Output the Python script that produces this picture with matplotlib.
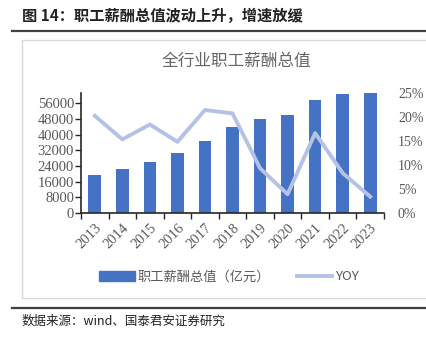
import numpy as np
import matplotlib

matplotlib.use("Agg")
import matplotlib.pyplot as plt
from matplotlib.lines import Line2D
from matplotlib.patches import Rectangle, Patch

plt.rcParams["font.family"] = ["Noto Sans CJK SC", "DejaVu Sans"]

years = ["2013", "2014", "2015", "2016", "2017", "2018", "2019", "2020", "2021", "2022", "2023"]
pay_total = [19300, 22400, 26300, 30600, 36600, 44000, 47800, 49900, 57700, 61000, 61300]
yoy = [20.2, 15.3, 18.4, 14.8, 21.4, 20.7, 9.3, 3.9, 16.6, 8.3, 3.4]
left_ticks = [0, 8000, 16000, 24000, 32000, 40000, 48000, 56000]
right_ticks = [0, 5, 10, 15, 20, 25]

BAR_C = "#4472C4"
LINE_C = "#B4C2E6"
TXT_C = "#595959"
W, H = 426, 337

fig = plt.figure(figsize=(W / 100, H / 100), dpi=100)

# outer decorations (title, rules, chart frame, source)
fig.text(22 / W, 1 - 16 / H, "图 14：职工薪酬总值波动上升，增速放缓",
         fontsize=11, fontweight="semibold", color="#222222", va="center", ha="left")
fig.add_artist(Line2D([12 / W, 1], [1 - 31 / H] * 2, color="#404040", lw=1.6))
fig.add_artist(Rectangle((21.5 / W, 1 - 298 / H), (W - 21) / W, (298 - 39.5) / H,
                         fill=False, ec="#d9d9d9", lw=1.0))
fig.add_artist(Line2D([12 / W, 1], [1 - 308 / H] * 2, color="#404040", lw=1.6))
fig.text(22 / W, 1 - 321 / H, "数据来源：wind、国泰君安证券研究",
         fontsize=9, color="#222222", va="center", ha="left")
fig.text(236 / W, 1 - 61 / H, "全行业职工薪酬总值", fontsize=12, color="#666666",
         va="center", ha="center")

ax = fig.add_axes([81 / W, 1 - 213 / H, 303 / W, 120.3 / H])
x = np.arange(len(years))
ax.bar(x, pay_total, 0.46, color=BAR_C, zorder=2)
ax.set_xlim(-0.5, len(years) - 0.5)
ax.set_ylim(0, 61500)
ax.set_yticks(left_ticks)
ax.set_yticklabels([str(v) for v in left_ticks], family="Liberation Serif",
                   fontsize=10.5, color=TXT_C)
ax.set_xticks(x)
ax.set_xticklabels(years, family="Liberation Serif", fontsize=10.5, color=TXT_C,
                   rotation=45, ha="right", va="top", rotation_mode="anchor")
ax.set_xticks(np.arange(len(years) + 1) - 0.5, minor=True)
ax.tick_params(axis="x", which="major", length=0, pad=6)
ax.tick_params(axis="x", which="minor", length=4, width=1, color="#262626")
ax.tick_params(axis="y", length=4, width=1, color="#262626", pad=1)
for s in ["top", "right"]:
    ax.spines[s].set_visible(False)
for s in ["left", "bottom"]:
    ax.spines[s].set_color("#262626")
    ax.spines[s].set_linewidth(1.2)

ax2 = ax.twinx()
ax2.plot(x, yoy, color=LINE_C, lw=2.8, solid_joinstyle="round", zorder=3)
ax2.set_ylim(0, 25)
ax2.set_yticks(right_ticks)
ax2.set_yticklabels([f"{v}%" for v in right_ticks], family="Liberation Serif",
                    fontsize=10, color=TXT_C)
ax2.tick_params(axis="y", length=0, pad=10)
for s in ["top", "right", "left", "bottom"]:
    ax2.spines[s].set_visible(False)

handles = [Patch(color=BAR_C, label="职工薪酬总值（亿元）"),
           Line2D([0], [0], color=LINE_C, lw=2.8, label="YOY")]
fig.legend(handles=handles, loc="center", bbox_to_anchor=(229 / W, 1 - 277 / H),
           ncol=2, frameon=False, fontsize=9.5, labelcolor=TXT_C,
           handlelength=2.7, handleheight=0.7, handletextpad=0.2, columnspacing=2.0)

fig.savefig("out.png", dpi=100)
